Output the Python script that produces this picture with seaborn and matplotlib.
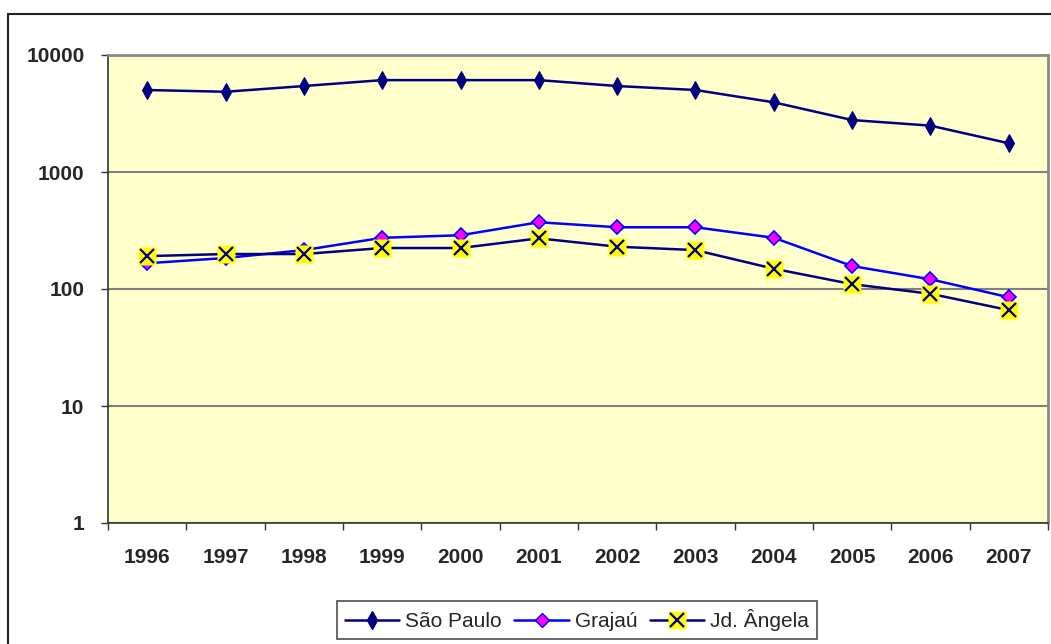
import pandas as pd
import seaborn as sns
import matplotlib.pyplot as plt
from matplotlib.lines import Line2D
from matplotlib.ticker import FixedLocator, NullLocator, FixedFormatter

years = ['1996', '1997', '1998', '1999', '2000', '2001',
         '2002', '2003', '2004', '2005', '2006', '2007']
sao_paulo = [5020, 4850, 5430, 6100, 6100, 6100, 5430, 5020, 3940, 2780, 2490, 1760]
grajau = [166, 184, 215, 274, 288, 372, 337, 337, 274, 157, 121, 85]
jd_angela = [191, 199, 199, 224, 224, 271, 230, 215, 149, 110, 91, 66]

sns.set_style("white")
plt.rcParams['font.family'] = ['Liberation Sans', 'DejaVu Sans']

df = pd.DataFrame({'pos': range(len(years)), 'sp': sao_paulo,
                   'gr': grajau, 'ja': jd_angela})

fig = plt.figure(figsize=(10.51, 6.44), dpi=100)
ax = fig.add_axes([108 / 1051, 1 - 523 / 644, 940 / 1051, 468 / 644])
ax.set_facecolor('#FFFFCC')

navy = '#000080'
blue = '#0000FF'

sns.lineplot(x='pos', y='sp', data=df, ax=ax, color=navy, lw=1.8,
             marker='d', markersize=9, markerfacecolor=navy,
             markeredgecolor=navy, legend=False, zorder=3)
sns.lineplot(x='pos', y='gr', data=df, ax=ax, color=blue, lw=1.8,
             marker='D', markersize=7, markerfacecolor='#FF00FF',
             markeredgecolor=blue, markeredgewidth=1.2, legend=False, zorder=3)
sns.lineplot(x='pos', y='ja', data=df, ax=ax, color=navy, lw=1.8,
             marker='s', markersize=13.5, markerfacecolor='#FFFF00',
             markeredgecolor='none', legend=False, zorder=4)
ax.plot(df['pos'], df['ja'], ls='none', marker='x', markersize=9.5,
        markeredgecolor=navy, markeredgewidth=1.6, zorder=5)

ax.set_yscale('log')
ax.set_ylim(1, 10000)
ax.set_xlim(-0.5, len(years) - 0.5)
ax.yaxis.set_major_locator(FixedLocator([1, 10, 100, 1000, 10000]))
ax.yaxis.set_major_formatter(FixedFormatter(['1', '10', '100', '1000', '10000']))
ax.yaxis.set_minor_locator(NullLocator())
ax.xaxis.set_major_locator(FixedLocator(list(range(len(years)))))
ax.xaxis.set_major_formatter(FixedFormatter(years))
ax.xaxis.set_minor_locator(FixedLocator([i - 0.5 for i in range(len(years) + 1)]))

ax.grid(axis='y', color='#808080', lw=1.5)
ax.set_axisbelow(True)
ax.tick_params(axis='x', which='major', length=0, pad=18, labelsize=15)
ax.tick_params(axis='x', which='minor', length=5, width=1, color='#333333',
               direction='out', bottom=True)
ax.tick_params(axis='y', which='major', length=5, width=1, color='#333333',
               direction='out', left=True, pad=12, labelsize=15)
for lab in ax.get_xticklabels() + ax.get_yticklabels():
    lab.set_fontweight('bold')
ax.set(xlabel='', ylabel='')

for side in ['left', 'bottom']:
    ax.spines[side].set_color('#333333')
    ax.spines[side].set_linewidth(1.2)
for side in ['top', 'right']:
    ax.spines[side].set_color('#888888')
    ax.spines[side].set_linewidth(2)

# outer chart border
fig.add_artist(Line2D([8 / 1051, 8 / 1051], [0, 1 - 14 / 644],
                      transform=fig.transFigure, color='#222222', lw=1.5))
fig.add_artist(Line2D([8 / 1051, 1], [1 - 14 / 644, 1 - 14 / 644],
                      transform=fig.transFigure, color='#222222', lw=1.5))

h_sp = Line2D([], [], color=navy, lw=1.8, marker='d', markersize=9,
              markerfacecolor=navy, markeredgecolor=navy)
h_gr = Line2D([], [], color=blue, lw=1.8, marker='D', markersize=7,
              markerfacecolor='#FF00FF', markeredgecolor=blue)
h_ja1 = Line2D([], [], color=navy, lw=1.8, marker='s', markersize=13.5,
               markerfacecolor='#FFFF00', markeredgecolor='none')
h_ja2 = Line2D([], [], ls='none', marker='x', markersize=9.5,
               markeredgecolor=navy, markeredgewidth=1.6)
leg = fig.legend([h_sp, h_gr, (h_ja1, h_ja2)], ['São Paulo', 'Grajaú', 'Jd. Ângela'],
                 loc='center', bbox_to_anchor=(577 / 1051, 1 - 620 / 644), ncol=3,
                 fontsize=15, frameon=True, fancybox=False, handlelength=2.6,
                 handletextpad=0.3, columnspacing=0.6, borderpad=0.4)
leg.get_frame().set_edgecolor('#222222')
leg.get_frame().set_linewidth(1.2)

plt.savefig('out.png', dpi=100)
